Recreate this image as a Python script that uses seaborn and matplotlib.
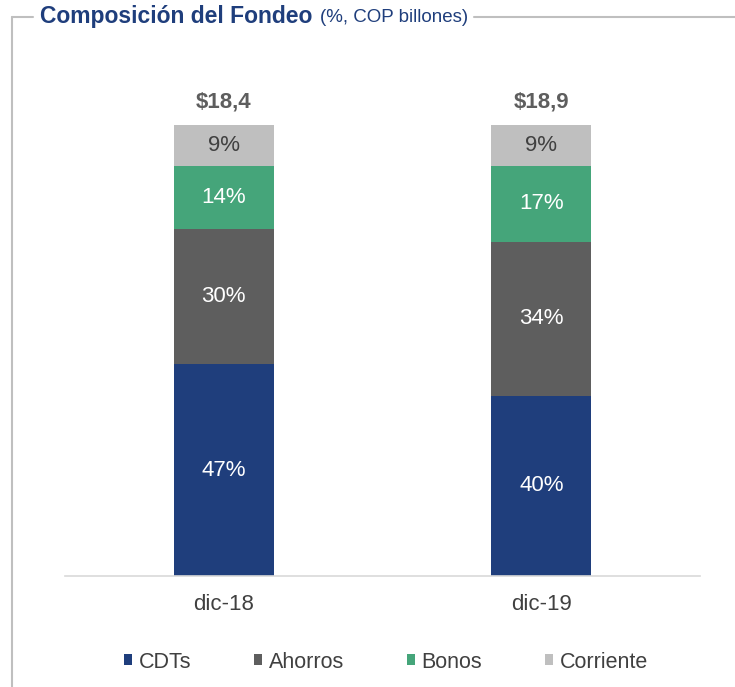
import numpy as np
import pandas as pd
import seaborn as sns
import matplotlib.pyplot as plt
from matplotlib.patches import Patch
from matplotlib.lines import Line2D

periodos = ['dic-18', 'dic-19']
totales = ['$18,4', '$18,9']
series = ['CDTs', 'Ahorros', 'Bonos', 'Corriente']
cdts = [47, 40]
ahorros = [30, 34]
bonos = [14, 17]
corriente = [9, 9]

colores = ['#1F3E7C', '#5E5E5E', '#45A57A', '#BFBFBF']
texto_col = ['white', 'white', 'white', '#404040']

sns.set_theme(style='white')
plt.rcParams['font.family'] = ['Liberation Sans', 'DejaVu Sans']

valores = np.array([cdts, ahorros, bonos, corriente])
acum = np.cumsum(valores, axis=0)

fig = plt.figure(figsize=(7.35, 6.87), dpi=100)
ax = fig.add_axes([65 / 735, 111 / 687, 635 / 735, 516 / 687])

# barras apiladas: se dibuja la suma acumulada de mayor a menor
for i in range(len(series) - 1, -1, -1):
    df = pd.DataFrame({'periodo': periodos, 'valor': acum[i]})
    sns.barplot(data=df, x='periodo', y='valor', color=colores[i], width=0.315,
                saturation=1, ax=ax, linewidth=0, errorbar=None)

for j in range(len(periodos)):
    base = 0
    for i in range(len(series)):
        v = valores[i][j]
        ax.text(j, base + v / 2, f'{v}%', ha='center', va='center',
                fontsize=16, color=texto_col[i])
        base += v
    ax.text(j, base + 5, totales[j], ha='center', va='center', fontsize=16,
            fontweight='bold', color='#5E5E5E')

ax.set_xlim(-0.5, 1.5)
ax.set_ylim(0, 114.4)
ax.set_xlabel('')
ax.set_ylabel('')
ax.set_yticks([])
ax.tick_params(axis='x', length=0, labelsize=16, labelcolor='#404040', pad=13)
for s in ['top', 'right', 'left']:
    ax.spines[s].set_visible(False)
ax.spines['bottom'].set_color('#D9D9D9')
ax.spines['bottom'].set_linewidth(1.2)

handles = [Patch(facecolor=c, edgecolor='none') for c in colores]
fig.legend(handles, series, loc='center', bbox_to_anchor=(0.525, 1 - 662 / 687),
           ncol=4, frameon=False, fontsize=15.5, handlelength=0.4, handleheight=0.4,
           handletextpad=0.3, columnspacing=2.9, labelcolor='#404040')

# titulo
y_tit = 1 - 17 / 687
t1 = fig.text(40 / 735, y_tit, 'Composición del Fondeo', fontsize=16.5, fontweight='bold',
              color='#1F3E7C', va='center')
fig.canvas.draw()
bb = t1.get_window_extent()
t2 = fig.text((bb.x1 + 8) / 735, y_tit, '(%, COP billones)', fontsize=13.5,
              color='#1F3E7C', va='center')
fig.canvas.draw()
bb2 = t2.get_window_extent()

# marco
gris = '#BFBFBF'
fig.add_artist(Line2D([12 / 735, 12 / 735], [0, y_tit], color=gris, lw=1.5))
fig.add_artist(Line2D([12 / 735, 33 / 735], [y_tit, y_tit], color=gris, lw=1.5))
fig.add_artist(Line2D([(bb2.x1 + 5) / 735, 1], [y_tit, y_tit], color=gris, lw=1.5))

fig.savefig('out.png', dpi=100)
